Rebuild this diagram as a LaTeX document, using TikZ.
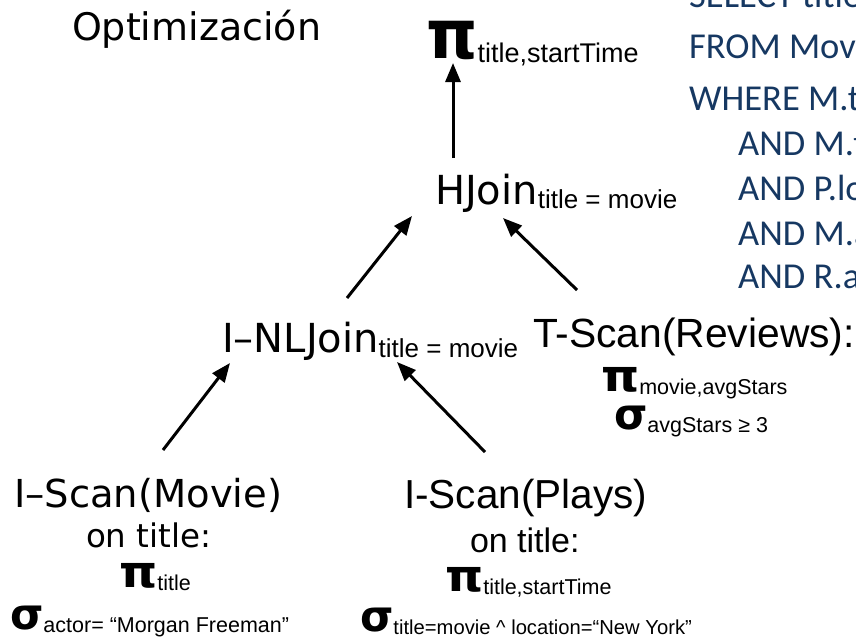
\documentclass[tikz,border=0pt]{standalone}
\usepackage{fontspec}
\usepackage{graphicx}
\setmainfont{Liberation Sans}
\newfontfamily\dvs{DejaVu Sans}
\newfontfamily\grk{DejaVu Sans}
\newfontfamily\sqlf{Carlito}
\usetikzlibrary{arrows.meta}
\definecolor{sqlblue}{RGB}{22,56,98}
\newcommand\setfs[1]{\fontsize{#1pt}{#1pt}\selectfont}
% relational-algebra symbols
\newcommand\opPi{\scalebox{1.1}[1]{\grk\bfseries\setfs{44}π}}
\newcommand\opSigma{{\grk\bfseries\setfs{43}σ}}
% lowered subscript: #1 lowering, #2 size, #3 text
\newcommand\opsub[3]{\raisebox{-#1pt}{\setfs{#2}#3}}
\begin{document}
\begin{tikzpicture}[x=1pt,y=-1pt,
  lbl/.style={inner sep=0pt,outer sep=0pt,anchor=base west},
  arr/.style={line width=3pt,-{Triangle[length=19pt,width=15pt]}},
  sql/.style={inner sep=0pt,anchor=base west,text=sqlblue,font=\sqlf\setfs{36.5}}]
\useasboundingbox (0,0) rectangle (856,640);

% heading
\node[lbl,font=\dvs\setfs{38}] (opt) at (72,40) {Optimización};

% SQL query, running off the right edge
\begin{scope}
\clip (0,0) rectangle (856,640);
\node[sql] (q1) at (689,7) {SELECT title, startTime};
\node[sql] (q2) at (689,58) {FROM Movie M, Plays P, Reviews R};
\node[sql] (q3) at (689,110) {WHERE M.title = P.movie};
\node[sql] (q4) at (738,155) {AND M.title = R.movie};
\node[sql] (q5) at (738,200) {AND P.location = 'New York'};
\node[sql] (q6) at (738,245) {AND M.actor = 'Morgan Freeman'};
\node[sql] (q7) at (738,288) {AND R.avgStars >= 3};
\end{scope}

% plan operators
\node[lbl] (pitop) at (426,58) {\scalebox{1.05}[1.1]{\grk\bfseries\setfs{62}π}\opsub{4}{27}{title,startTime}};
\node[lbl] (hj) at (435,204) {{\dvs\setfs{40}HJoin}\opsub{4}{26}{title = movie}};
\node[lbl] (nlj) at (222,352) {{\dvs\setfs{40}I–NLJoin}\opsub{5}{26}{title = movie}};
\node[lbl,font=\setfs{40.8}] (tscan) at (533,347) {T-Scan(Reviews):};
\node[lbl] (pimid) at (601,391) {\opPi\opsub{3}{21.5}{movie,avgStars}};
\node[lbl] (sigmid) at (614,429) {\opSigma\opsub{3}{21.5}{avgStars ≥ 3}};

\node[lbl,font=\dvs\setfs{38.5}] (ism) at (14,507) {I–Scan(Movie)};
\node[lbl,font=\dvs\setfs{32.5}] (onl) at (86,547) {on title:};
\node[lbl] (pil) at (119,587) {\opPi\opsub{3}{21.5}{title}};
\node[lbl] (sigl) at (10,629) {\opSigma\opsub{3}{21.5}{actor= “Morgan Freeman”}};

\node[lbl,font=\setfs{40.5}] (isp) at (404,508) {I-Scan(Plays)};
\node[lbl,font=\setfs{34}] (onr) at (470,552) {on title:};
\node[lbl] (pir) at (445,591) {\opPi\opsub{3}{21.5}{title,startTime}};
\node[lbl] (sigr) at (360,631) {\opSigma\opsub{3}{20.2}{title=movie \textasciicircum{} location=“New York”}};

% data flow, bottom to top
\draw[arr] ([shift={(18,-46)}]hj.base west) -- ([shift={(27,5)}]pitop.base west);
\draw[arr] ([shift={(125,-54)}]nlj.base west) -- ([shift={(-23,12)}]hj.base west);
\draw[arr] ([shift={(44,-57)}]tscan.base west) -- ([shift={(68,14)}]hj.base west);
\draw[arr] ([shift={(149,-57)}]ism.base west) -- ([shift={(8,11)}]nlj.base west);
\draw[arr] ([shift={(81,-56)}]isp.base west) -- ([shift={(175,10)}]nlj.base west);
\end{tikzpicture}
\end{document}
